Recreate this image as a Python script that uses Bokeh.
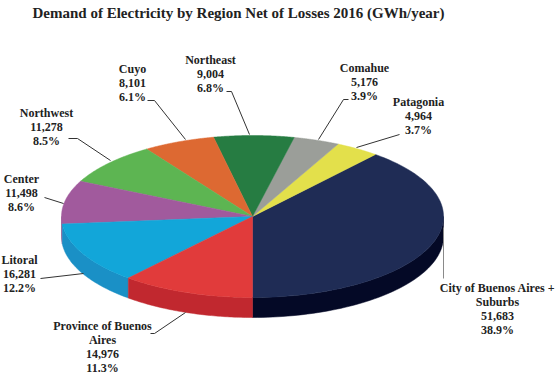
import numpy as np
from bokeh.plotting import figure
from bokeh.models import Range1d
from bokeh.embed import file_html
from bokeh.resources import INLINE
from bokeh.core.properties import value

# ---------------- data ----------------
title = "Demand of Electricity by Region Net of Losses 2016 (GWh/year)"
regions = ["City of Buenos Aires + Suburbs", "Patagonia", "Comahue", "Northeast",
           "Cuyo", "Northwest", "Center", "Litoral", "Province of Buenos Aires"]
demand = [51683, 4964, 5176, 9004, 8101, 11278, 11498, 16281, 14976]
name_lines = [["City of Buenos Aires +", "Suburbs"], ["Patagonia"], ["Comahue"], ["Northeast"],
              ["Cuyo"], ["Northwest"], ["Center"], ["Litoral"], ["Province of Buenos", "Aires"]]

# ---------------- styles / layout ----------------
top_colors = ["#1f2c55", "#e3e04b", "#9b9e99", "#267c42", "#dd6932",
              "#5db552", "#a15a9d", "#12a6d9", "#e13b3b"]
side_colors = ["#040926", "#c4c23c", "#81847f", "#1c5f32", "#b95527",
               "#4a9541", "#864a83", "#1a90c6", "#c1282f"]
label_pos = [(497, 287), (418, 101), (364, 67), (210, 59), (132, 68),
             (46, 112), (21, 178), (19, 259), (102, 325)]
leaders = [
    [(443, 227), (443, 278)],
    [(399, 134), (356, 147)],
    [(348, 99), (343, 99), (318, 139)],
    [(226, 91), (231, 91), (249, 134)],
    [(147, 100), (154, 100), (185, 139)],
    [(68, 138), (77, 138), (110, 160)],
    [(44, 197), (63, 203)],
    [(40, 278), (83, 273)],
    [(150, 333), (154, 333), (185, 312)],
]
leader_colors = ["#8a8a8a"] + ["#333333"] * 8

CX, CY, A, B, DEPTH = 252.0, 216.0, 191.0, 81.0, 20.0
START = 270.0  # first slice starts at bottom, counter-clockwise

W, H = 555, 374
p = figure(width=W, height=H, output_backend="svg", toolbar_location=None,
           x_range=Range1d(0, W), y_range=Range1d(H, 0), min_border=0)
p.axis.visible = False
p.grid.visible = False
p.outline_line_color = None
p.background_fill_color = "white"
p.border_fill_color = "white"

vals = np.array(demand, dtype=float)
frac = vals / vals.sum()
ends = START + np.cumsum(frac) * 360.0
starts = np.concatenate([[START], ends[:-1]])


def pt(t_deg, dy=0.0):
    t = np.radians(t_deg)
    return CX + A * np.cos(t), CY - B * np.sin(t) + dy


# side walls (front half: angles 180..360 and 540..720)
side_xs, side_ys, side_cols = [], [], []
for s, e, c in zip(starts, ends, side_colors):
    for lo, hi in [(180, 360), (540, 720)]:
        a0, a1 = max(s, lo), min(e, hi)
        if a1 > a0:
            ts = np.linspace(a0, a1, 60)
            x_top, y_top = pt(ts)
            x_bot, y_bot = pt(ts[::-1], DEPTH)
            side_xs.append(list(np.concatenate([x_top, x_bot])))
            side_ys.append(list(np.concatenate([y_top, y_bot])))
            side_cols.append(c)
p.patches(side_xs, side_ys, fill_color=side_cols, line_color=side_cols, line_width=0.5)

# top slices
top_xs, top_ys = [], []
for s, e in zip(starts, ends):
    ts = np.linspace(s, e, 80)
    x, y = pt(ts)
    top_xs.append([CX] + list(x))
    top_ys.append([CY] + list(y))
p.patches(top_xs, top_ys, fill_color=top_colors, line_color=top_colors, line_width=0.5)

# leader lines
p.multi_line([[q[0] for q in l] for l in leaders], [[q[1] for q in l] for l in leaders],
             line_color=leader_colors, line_width=1)

# labels
tx, ty, tt = [], [], []
LH = 14.2
for names, v, f, (lx, ly) in zip(name_lines, demand, frac, label_pos):
    lines = names + [f"{v:,}", f"{f * 100:.1f}%"]
    for i, s in enumerate(lines):
        tx.append(lx)
        ty.append(ly + i * LH)
        tt.append(s)
p.text(tx, ty, text=tt, text_align="center", text_baseline="middle",
       text_font=value("Liberation Serif"), text_font_style="bold",
       text_font_size="12px", text_color="#222222")

# title
p.text([238], [12], text=[title], text_align="center", text_baseline="middle",
       text_font=value("Liberation Serif"), text_font_style="bold",
       text_font_size="15px", text_color="#222222")

open("out.html", "w").write(file_html(p, INLINE))
